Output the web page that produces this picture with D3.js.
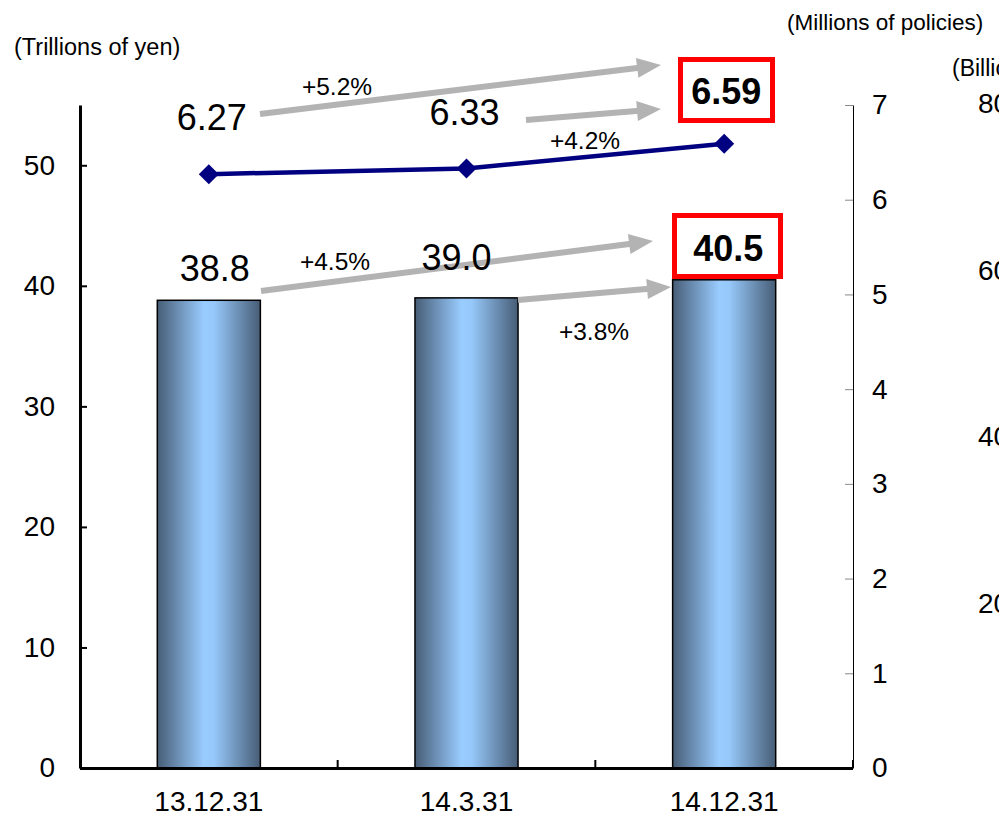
<!DOCTYPE html>
<html>
<head>
<meta charset="utf-8">
<script src="https://cdn.jsdelivr.net/npm/d3@7"></script>
<style>
  html, body { margin: 0; padding: 0; background: #fff; }
  svg { display: block; }
  text { font-family: "Liberation Sans", Arial, sans-serif; fill: #000; }
</style>
</head>
<body>
<svg id="chart" width="999" height="817"></svg>
<script>
// ---- data ----
const categories = ["13.12.31", "14.3.31", "14.12.31"];
const assets = [38.8, 39.0, 40.5];          // Trillions of yen (bars, left axis)
const policies = [6.27, 6.33, 6.59];        // Millions of policies (line, right axis)
const leftTicks = [0, 10, 20, 30, 40, 50];
const rightTicks = [0, 1, 2, 3, 4, 5, 6, 7];
const sideTicks = [20, 40, 60, 80];         // cut-off neighbouring chart
const assetLabels = ["38.8", "39.0", "40.5"];
const policyLabels = ["6.27", "6.33", "6.59"];
const growthLabels = ["+5.2%", "+4.2%", "+4.5%", "+3.8%"];

// ---- layout ----
const svg = d3.select("#chart");
const L = 80, R = 853, TOP = 105, BASE = 768;

const x = d3.scaleBand().domain(categories).range([L, R]).paddingInner(0.6).paddingOuter(0.3);
const yL = d3.scaleLinear().domain([0, 55]).range([BASE, TOP]);
const yR = d3.scaleLinear().domain([0, 7]).range([BASE, TOP]);
const ySide = d3.scaleLinear().domain([0, 80]).range([770, 103]);
const cx = c => x(c) + x.bandwidth() / 2;

// gradient for bars
const defs = svg.append("defs");
const g = defs.append("linearGradient").attr("id", "barGrad").attr("x1", "0").attr("x2", "1").attr("y1", "0").attr("y2", "0");
g.append("stop").attr("offset", "0%").attr("stop-color", "#475d76");
g.append("stop").attr("offset", "45%").attr("stop-color", "#99ccff");
g.append("stop").attr("offset", "55%").attr("stop-color", "#96c8fa");
g.append("stop").attr("offset", "100%").attr("stop-color", "#475d76");

// bars
svg.append("g").selectAll("rect").data(assets).join("rect")
  .attr("x", (d, i) => x(categories[i]))
  .attr("y", d => yL(d))
  .attr("width", x.bandwidth())
  .attr("height", d => yL(0) - yL(d))
  .attr("fill", "url(#barGrad)")
  .attr("stroke", "#000").attr("stroke-width", 1.5);

// left axis
const axL = svg.append("g").attr("transform", `translate(${L},0)`)
  .call(d3.axisLeft(yL).tickValues(leftTicks).tickSizeInner(-7).tickSizeOuter(0).tickPadding(25));
axL.select(".domain").attr("stroke", "#000").attr("stroke-width", 3);
axL.selectAll(".tick line").attr("stroke", "#000").attr("stroke-width", 2);
axL.selectAll(".tick text").attr("font-size", 28).attr("font-family", "Liberation Sans, Arial, sans-serif");

// right axis
const axR = svg.append("g").attr("transform", `translate(${R},0)`)
  .call(d3.axisRight(yR).tickValues(rightTicks).tickFormat(d3.format("d")).tickSizeInner(-8).tickSizeOuter(0).tickPadding(19));
axR.select(".domain").attr("stroke", "#000").attr("stroke-width", 1);
axR.selectAll(".tick line").attr("stroke", "#888").attr("stroke-width", 1);
axR.selectAll(".tick text").attr("font-size", 28).attr("font-family", "Liberation Sans, Arial, sans-serif");

// x axis
const axX = svg.append("g").attr("transform", `translate(0,${BASE})`)
  .call(d3.axisBottom(x).tickSize(0).tickPadding(23));
axX.select(".domain").attr("stroke", "#000").attr("stroke-width", 3).attr("d", `M${L},0.5H${R}`);
axX.selectAll(".tick text").attr("font-size", 28).attr("font-family", "Liberation Sans, Arial, sans-serif");
const boundaries = d3.range(1, categories.length + 1).map(i => L + x.step() * i);
axX.append("g").selectAll("line").data(boundaries).join("line")
  .attr("x1", d => d).attr("x2", d => d).attr("y1", 0).attr("y2", -8)
  .attr("stroke", "#000").attr("stroke-width", 2);

// cut-off neighbouring axis labels
svg.append("g").selectAll("text").data(sideTicks).join("text")
  .attr("x", 978).attr("y", d => ySide(d)).attr("dy", "0.35em")
  .attr("font-size", 28).text(d => d);
svg.append("text").attr("x", 952).attr("y", 76).attr("font-size", 23).text("(Billions of yen)");

// axis titles
svg.append("text").attr("x", 14).attr("y", 55).attr("font-size", 23.5).text("(Trillions of yen)");
svg.append("text").attr("x", 787).attr("y", 30).attr("font-size", 22.5).text("(Millions of policies)");

// line
const line = d3.line().x((d, i) => cx(categories[i])).y(d => yR(d));
svg.append("path").datum(policies).attr("d", line)
  .attr("fill", "none").attr("stroke", "#000080").attr("stroke-width", 4.5);
svg.append("g").selectAll("path").data(policies).join("path")
  .attr("d", d3.symbol(d3.symbolSquare, 200))
  .attr("transform", (d, i) => `translate(${cx(categories[i])},${yR(d)}) rotate(45)`)
  .attr("fill", "#000080");

// arrows (annotation layout)
const arrows = [
  {x1: 260, y1: 114, x2: 661, y2: 65},
  {x1: 526, y1: 120, x2: 661, y2: 109},
  {x1: 261, y1: 291, x2: 653, y2: 241},
  {x1: 518, y1: 300, x2: 671, y2: 287}
];
const ag = svg.append("g");
arrows.forEach(a => {
  const ang = Math.atan2(a.y2 - a.y1, a.x2 - a.x1);
  const hl = 24, hw = 10;
  const bx = a.x2 - hl * Math.cos(ang), by = a.y2 - hl * Math.sin(ang);
  ag.append("line").attr("x1", a.x1).attr("y1", a.y1).attr("x2", bx + 2 * Math.cos(ang)).attr("y2", by + 2 * Math.sin(ang))
    .attr("stroke", "#b3b3b3").attr("stroke-width", 6);
  const px = -Math.sin(ang), py = Math.cos(ang);
  ag.append("path")
    .attr("d", `M${a.x2},${a.y2}L${bx + px * hw},${by + py * hw}L${bx - px * hw},${by - py * hw}Z`)
    .attr("fill", "#b3b3b3");
});

// growth labels
const growthPos = [[337, 95], [585, 149], [335, 270], [594, 340]];
svg.append("g").selectAll("text").data(growthLabels).join("text")
  .attr("x", (d, i) => growthPos[i][0]).attr("y", (d, i) => growthPos[i][1])
  .attr("text-anchor", "middle").attr("font-size", 24.5).text(d => d);

// red highlight boxes for latest values
const last = categories.length - 1;
svg.append("rect").attr("x", 680.5).attr("y", 59.5).attr("width", 92).attr("height", 61)
  .attr("fill", "#fff").attr("stroke", "#ff0000").attr("stroke-width", 5);
svg.append("rect").attr("x", 674.5).attr("y", 215.5).attr("width", 106).attr("height", 61)
  .attr("fill", "#fff").attr("stroke", "#ff0000").attr("stroke-width", 5);

// policy value labels
const polOff = [[3, -44], [-2, -43], [2, -40]];
svg.append("g").selectAll("text").data(policies).join("text")
  .attr("x", (d, i) => cx(categories[i]) + polOff[i][0])
  .attr("y", (d, i) => yR(d) + polOff[i][1])
  .attr("text-anchor", "middle").attr("font-size", 36)
  .attr("font-weight", (d, i) => i === last ? "bold" : "normal")
  .text((d, i) => policyLabels[i]);

// asset value labels
const assetOff = [[6, -19], [-10, -28], [4, -19]];
svg.append("g").selectAll("text").data(assets).join("text")
  .attr("x", (d, i) => cx(categories[i]) + assetOff[i][0])
  .attr("y", (d, i) => yL(d) + assetOff[i][1])
  .attr("text-anchor", "middle").attr("font-size", 36)
  .attr("font-weight", (d, i) => i === last ? "bold" : "normal")
  .text((d, i) => assetLabels[i]);
</script>
</body>
</html>
